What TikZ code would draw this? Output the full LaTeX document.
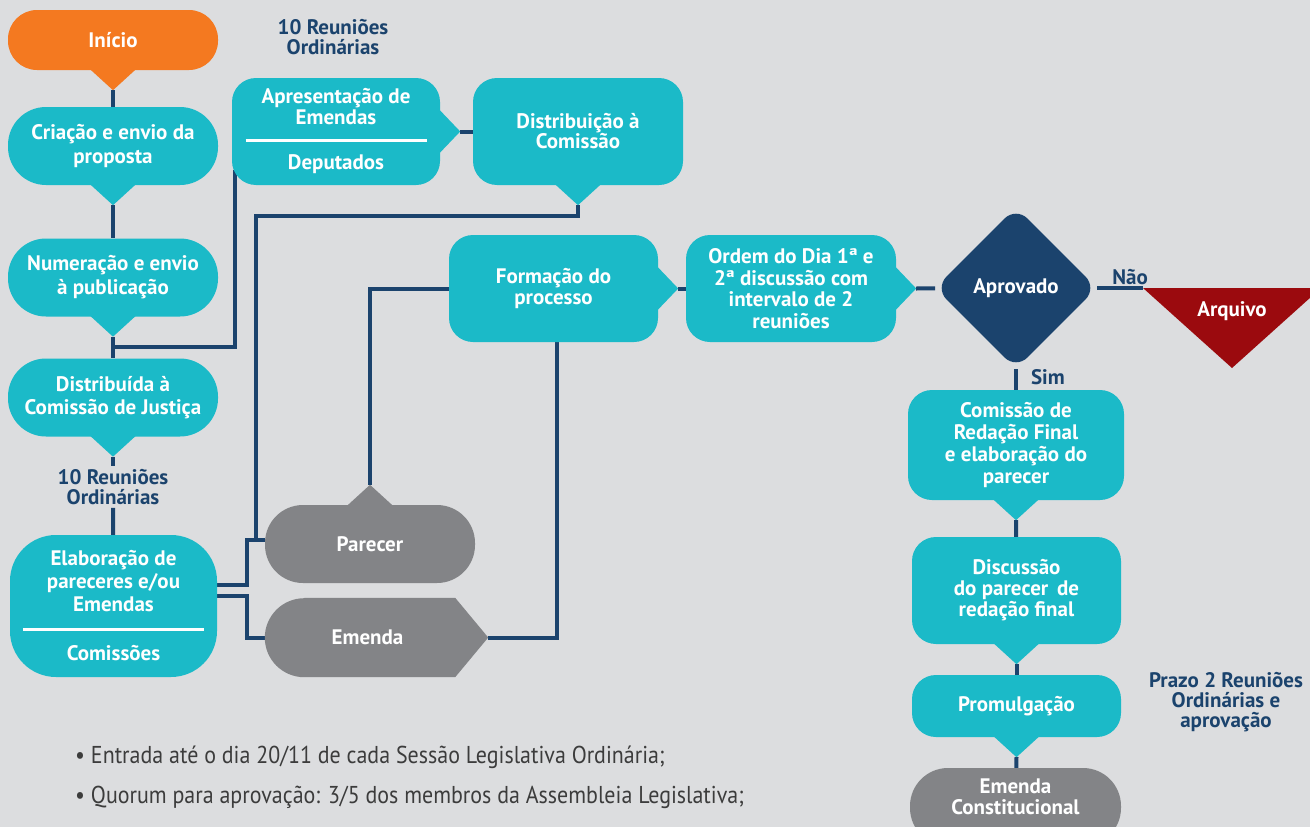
\documentclass[tikz,border=0pt]{standalone}
\usepackage{fontspec}
\setmainfont{PT Sans}
\newfontfamily\narrowfont[FakeStretch=0.9]{PT Sans}
\usepackage{xcolor}
\usetikzlibrary{calc}
\usetikzlibrary{shapes.geometric}
\definecolor{paper}{HTML}{DCDDDF}
\definecolor{tealA}{HTML}{1BBAC8}
\definecolor{orangeA}{HTML}{F47920}
\definecolor{navyA}{HTML}{1B436D}
\definecolor{greyA}{HTML}{838487}
\definecolor{redA}{HTML}{9B0A0E}
\definecolor{inkA}{HTML}{3C3C3C}
\pgfdeclarelayer{paperlayer}
\pgfdeclarelayer{links}
\pgfdeclarelayer{shapes}
\pgfsetlayers{paperlayer,links,shapes,main}
\def\linkwidth{4pt}
\newcommand{\divider}{\rule{181pt}{3pt}}
\newcommand{\boxfont}[1]{\bfseries\fontsize{21}{#1}\selectfont\lineskiplimit=-40pt}
% pointers: #1 node, #2 colour
\newcommand{\tipdown}[2]{\fill[#2] ([xshift=-23pt,yshift=1pt]#1.south) -- ([xshift=23pt,yshift=1pt]#1.south) -- ([yshift=-20pt]#1.south) coordinate (#1-tip) -- cycle;}
\newcommand{\tipup}[2]{\fill[#2] ([xshift=-23pt,yshift=-1pt]#1.north) -- ([xshift=23pt,yshift=-1pt]#1.north) -- ([yshift=20pt]#1.north) coordinate (#1-tip) -- cycle;}
\newcommand{\tipright}[2]{\fill[#2] ([xshift=-1pt,yshift=22pt]#1.east) -- ([xshift=-1pt,yshift=-22pt]#1.east) -- ([xshift=20pt]#1.east) coordinate (#1-tip) -- cycle;}
\tikzset{
box/.style={fill=tealA, text=white, align=center, inner sep=0pt, font=\boxfont{21}},
pill/.style={box, minimum width=210pt, minimum height=78pt, rounded corners=38pt, font=\boxfont{24}},
card/.style={box, minimum width=209pt, minimum height=107pt, rounded corners=24pt},
decision/.style={box, fill=navyA, diamond, minimum width=162pt, minimum height=162pt, rounded corners=16pt},
note/.style={text=navyA, align=center, inner sep=3pt, font=\boxfont{20}},
bullet/.style={text=inkA, anchor=west, inner sep=0pt,
	font=\narrowfont\fontsize{24.4}{27}\selectfont},
link/.style={draw=navyA, line width=\linkwidth},
}

\begin{document}
\begin{tikzpicture}[x=1pt, y=-1pt]
\begin{pgfonlayer}{paperlayer}
\fill[paper] (0,0) rectangle (1310,827);
\end{pgfonlayer}
\useasboundingbox (0,0) rectangle (1310,827);
\clip (0,0) rectangle (1310,827);

%Place the nodes
\node[pill, fill=orangeA, minimum height=60pt, rounded corners=29pt] (inicio) at (113,40) {Início};
\node[pill] (criacao) at (113,146) {Criação e envio da\\proposta};
\node[pill] (numeracao) at (113,277.5) {Numeração e envio\\à publicação};
\node[pill, font=\boxfont{23}] (distribuida) at (113,397.5) {Distribuída à\\Comissão de Justiça};
\node[note] (reunioesA) at (113,487) {10 Reuniões\\Ordinárias};
\node[pill, minimum width=207pt, minimum height=142pt, rounded corners=46pt, font=\boxfont{23}] (elaboracao) at (113.5,606)
	{Elaboração de\\pareceres e/ou\\Emendas\\[-3.5pt]\divider\\[6.5pt]Comissões};
\tipdown{inicio}{orangeA}
\tipdown{criacao}{tealA}
\tipdown{numeracao}{tealA}
\tipdown{distribuida}{tealA}

\node[note] (reunioesB) at (333,37) {10 Reuniões\\Ordinárias};
\node[card, minimum width=208pt] (apresentacao) at (336,131.5)
	{Apresentação de\\Emendas\\[-3.5pt]\divider\\[6.5pt]Deputados};
\node[card, minimum width=210pt, font=\boxfont{20}] (distribuicao) at (578,131.5) {Distribuição à\\Comissão};
\tipright{apresentacao}{tealA}
\tipdown{distribuicao}{tealA}

\node[card] (formacao) at (553.5,288.5) {Formação do\\processo};
\node[card, minimum width=210pt, font=\boxfont{21.7}] (ordem) at (791,288.5)
	{Ordem do Dia 1ª e\\2ª discussão com\\intervalo de 2\\reuniões};
\tipright{formacao}{tealA}
\tipright{ordem}{tealA}

\node[pill, fill=greyA] (parecer) at (370,544) {Parecer};
\tipup{parecer}{greyA}
\node[box, fill=none, minimum width=205pt, minimum height=79pt] (emenda) at (367.5,637.5) {Emenda};
\begin{pgfonlayer}{shapes}
\fill[greyA] ([xshift=39.5pt]emenda.north west) -- ([xshift=-15pt]emenda.north east)
	-- ([xshift=18pt]emenda.east) coordinate (emenda-tip) -- ([xshift=-15pt]emenda.south east)
	-- ([xshift=39.5pt]emenda.south west) arc[start angle=270, end angle=90, radius=39.5pt] -- cycle;
\end{pgfonlayer}

\node[decision] (aprovado) at (1016,288) {Aprovado};
\fill[redA] (1143,288) coordinate (arquivo) -- (1321,288) -- (1232,368) -- cycle;
\node[box, fill=none] (arquivotext) at (1232,311) {Arquivo};

\node[card, minimum width=216pt, minimum height=110pt, font=\boxfont{22.3}] (redacao) at (1016,445)
	{Comissão de\\Redação Final\\e elaboração do\\parecer};
\node[card] (discussao) at (1016.5,590.5) {Discussão\\do parecer\, de\\redação final};
\node[card, minimum height=62pt] (promulgacao) at (1016.5,706) {Promulgação};
\node[pill, fill=greyA, minimum width=211pt] (constitucional) at (1015.5,807) {};
\node[box, fill=none] (constitucionaltext) at ([yshift=10pt]constitucional.center) {Emenda\\Constitucional};
\tipdown{redacao}{tealA}
\tipdown{discussao}{tealA}
\tipdown{promulgacao}{tealA}
\node[note] (prazo) at (1226,702) {Prazo 2 Reuniões\\Ordinárias e\\aprovação};

\node[bullet] (entrada) at (75,757) {• Entrada até o dia 20/11 de cada Sessão Legislativa Ordinária;};
\node[bullet] (quorum) at (75,797) {• Quorum para aprovação: 3/5 dos membros da Assembleia Legislativa;};

\coordinate (join) at ($(parecer.west)+(-9,-4)$);

%Connect them
\begin{pgfonlayer}{links}
\draw[link] (inicio-tip) -- (criacao);
\draw[link] (criacao-tip) -- (numeracao);
\draw[link] (numeracao-tip) -- (distribuida);
\draw[link] (numeracao-tip) ++(0,10) -| ([xshift=3pt,yshift=15pt]apresentacao.south west);
\draw[link] (distribuida-tip) -- (reunioesA);
\draw[link] (reunioesA) -- (elaboracao);
\draw[link] (apresentacao-tip) -- (distribuicao);
\draw[link] (distribuicao-tip) -- ++(0,11) -| (join);
\draw[link] ([yshift=21pt]elaboracao.east) -- ++(30,0) |- ([yshift=4pt]parecer.west);
\draw[link] ([yshift=10pt]elaboracao.east) -- ++(30,0) |- (emenda.west);
\draw[link] (parecer-tip) |- (formacao.west);
\draw[link] ([xshift=3.5pt]formacao.south) |- (emenda-tip);
\draw[link] (formacao-tip) -- (ordem);
\draw[link] (ordem-tip) -- (aprovado);
\draw[link] (aprovado) -- node[note, above=-2pt, pos=0.72] {Não} (arquivo);
\draw[link] (aprovado) -- node[note, right=10pt, pos=0.4] {Sim} (redacao);
\draw[link] (redacao-tip) -- (discussao);
\draw[link] (discussao-tip) -- (promulgacao);
\draw[link] (promulgacao-tip) -- (constitucional);
\end{pgfonlayer}

\end{tikzpicture}
\end{document}
